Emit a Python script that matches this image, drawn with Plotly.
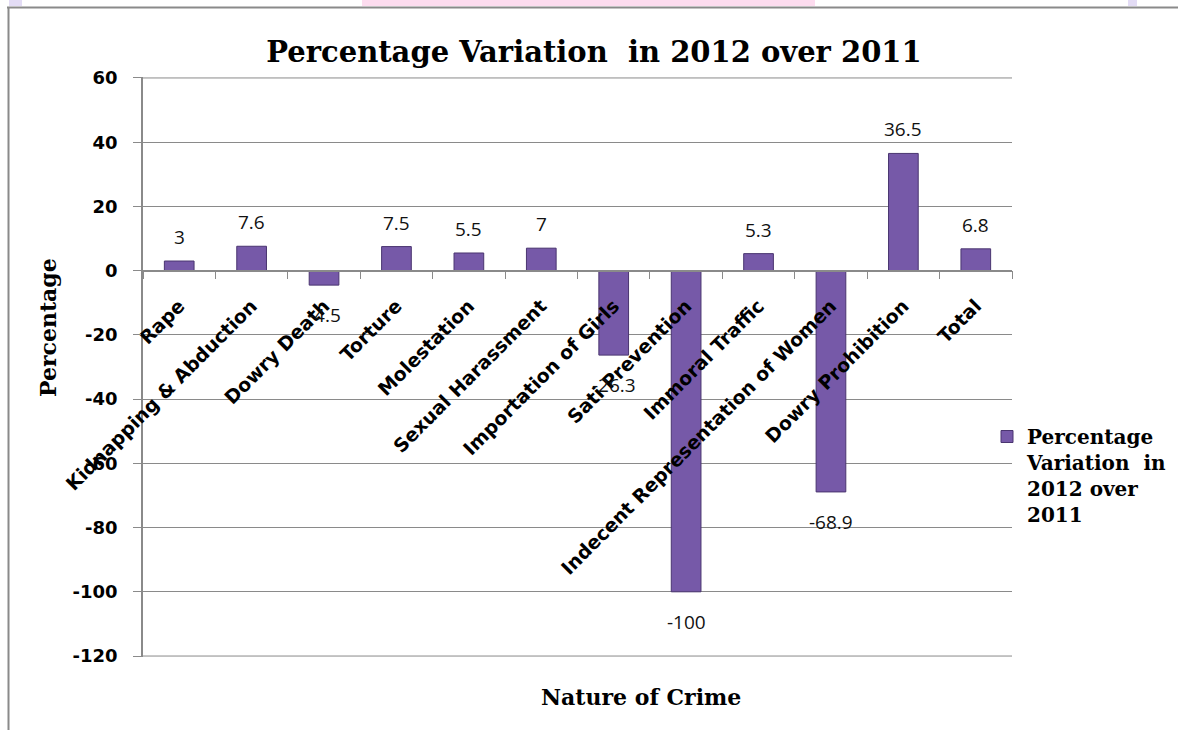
import plotly.graph_objects as go

categories = ["Rape", "Kidnapping & Abduction", "Dowry Death", "Torture", "Molestation",
              "Sexual Harassment", "Importation of Girls", "Sati Prevention", "Immoral Traffic",
              "Indecent Representation of Women", "Dowry Prohibition", "Total"]
values = [3, 7.6, -4.5, 7.5, 5.5, 7, -26.3, -100, 5.3, -68.9, 36.5, 6.8]
y_ticks = [60, 40, 20, 0, -20, -40, -60, -80, -100, -120]
series_name = "Percentage<br>Variation  in<br>2012 over<br>2011"

W, H = 1178, 730
L, R, T, B = 143, 1012, 77, 657


def px(x):
    return (x - L) / (R - L)


def py(y):
    return (B - y) / (B - T)


GRAY = "#8a8a8a"
fig = go.Figure()
fig.add_trace(go.Bar(
    x=categories, y=values, width=0.41, name=series_name,
    marker=dict(color="#7659a8", line=dict(color="#4a3570", width=1)),
    showlegend=True,
))

annotations = []
for c, v in zip(categories, values):
    annotations.append(dict(
        x=c, y=v, xref="x", yref="y", text=f"{v:g}", showarrow=False,
        yshift=24 if v >= 0 else -30, yanchor="middle",
        font=dict(family="Open Sans", size=19, color="#111111"),
    ))

annotations.append(dict(
    x=px(48), y=py(328), xref="paper", yref="paper", text="Percentage", showarrow=False,
    textangle=-90, xanchor="center", yanchor="middle",
    font=dict(family="DejaVu Serif", size=22, color="black", weight="bold"),
))
annotations.append(dict(
    x=px(641), y=py(697), xref="paper", yref="paper", text="Nature of Crime", showarrow=False,
    xanchor="center", yanchor="middle",
    font=dict(family="DejaVu Serif", size=22, color="black", weight="bold"),
))

shapes = [
    dict(type="rect", xref="paper", yref="paper", x0=px(362), x1=px(815), y0=py(0), y1=py(6),
         fillcolor="#fddcef", line=dict(width=0), layer="below"),
    dict(type="rect", xref="paper", yref="paper", x0=px(9), x1=px(22), y0=py(0), y1=py(6),
         fillcolor="#e3dcf5", line=dict(width=0), layer="below"),
    dict(type="rect", xref="paper", yref="paper", x0=px(1128), x1=px(1137), y0=py(0), y1=py(6),
         fillcolor="#e3dcf5", line=dict(width=0), layer="below"),
    dict(type="line", xref="paper", yref="paper", x0=px(7), x1=px(1178), y0=py(7.5), y1=py(7.5),
         line=dict(color=GRAY, width=2)),
    dict(type="line", xref="paper", yref="paper", x0=px(8.5), x1=px(8.5), y0=py(7), y1=py(730),
         line=dict(color=GRAY, width=2)),
]
# gridlines at the range edges (plotly omits them at the boundaries)
for yv in (y_ticks[0], y_ticks[-1]):
    shapes.append(dict(type="line", xref="paper", yref="y", x0=0, x1=1, y0=yv, y1=yv,
                       line=dict(color=GRAY, width=1), layer="below"))

fig.update_layout(
    width=W, height=H,
    margin=dict(l=L, r=W - R, t=T, b=H - B, autoexpand=False),
    paper_bgcolor="white", plot_bgcolor="white",
    title=dict(text="Percentage Variation  in 2012 over 2011", x=594 / W, y=1 - 52 / H,
               xanchor="center", yanchor="middle", xref="container", yref="container",
               font=dict(family="DejaVu Serif", size=29, color="black", weight="bold")),
    xaxis=dict(
        type="category", anchor="free", position=120.3 / 180.6,
        showline=True, linecolor=GRAY, linewidth=1.5,
        ticks="outside", ticklen=8, tickcolor=GRAY, tickson="boundaries",
        tickangle=-45, ticklabelstandoff=16,
        tickfont=dict(family="DejaVu Sans", size=19, color="black", weight="bold"),
        showgrid=False, zeroline=False,
    ),
    yaxis=dict(
        range=[-120.3, 60.3], tickvals=y_ticks, ticktext=[str(t) for t in y_ticks],
        showline=True, linecolor=GRAY, linewidth=1.5,
        ticks="outside", ticklen=8, tickcolor=GRAY, ticklabelstandoff=12,
        tickfont=dict(family="DejaVu Sans", size=18, color="black", weight="bold"),
        showgrid=True, gridcolor=GRAY, gridwidth=1, zeroline=False,
    ),
    legend=dict(x=px(987), y=py(417), xanchor="left", yanchor="top", valign="top",
                bgcolor="rgba(0,0,0,0)", borderwidth=0,
                font=dict(family="DejaVu Serif", size=20, color="black", weight="bold")),
    annotations=annotations,
    shapes=shapes,
)

fig.write_html("out.html")
